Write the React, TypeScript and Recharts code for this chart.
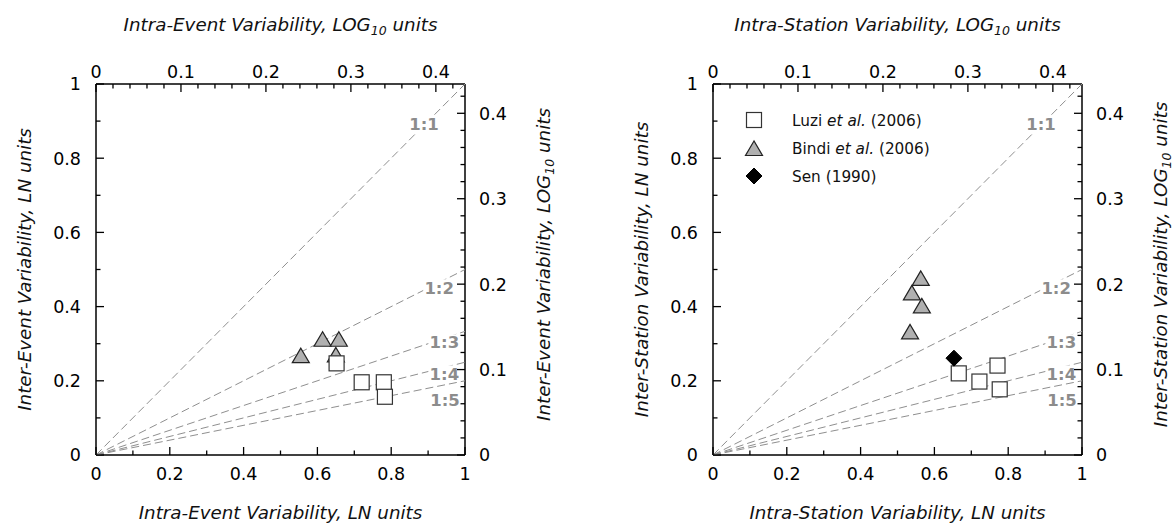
import React from 'react';
import { ScatterChart, Scatter, XAxis, YAxis, Legend } from 'recharts';

// ---------- data ----------
const lnTicks = [0, 0.1, 0.2, 0.3, 0.4, 0.5, 0.6, 0.7, 0.8, 0.9, 1];
const lnLabeledTicks = [0, 0.2, 0.4, 0.6, 0.8, 1];
const logTicks = [0, 0.02, 0.04, 0.06, 0.08, 0.1, 0.12, 0.14, 0.16, 0.18, 0.2, 0.22, 0.24, 0.26, 0.28, 0.3, 0.32, 0.34, 0.36, 0.38, 0.4, 0.42];
const logLabeledTicks = [0, 0.1, 0.2, 0.3, 0.4];
const LOG_MAX = 1 / Math.LN10; // 1 LN unit in LOG10 units

const ratioNames = ['1:1', '1:2', '1:3', '1:4', '1:5'];
const ratioDivisors = [1, 2, 3, 4, 5];
const ratioLabelX = [0.889, 0.93, 0.944, 0.944, 0.946];
const ratioLabelY = [0.892, 0.452, 0.304, 0.22, 0.148];

// Intra-event / inter-event (LN units)
const eventLuziX = [0.652, 0.72, 0.78, 0.783];
const eventLuziY = [0.247, 0.196, 0.196, 0.157];
const eventBindiX = [0.555, 0.614, 0.658, 0.65];
const eventBindiY = [0.268, 0.312, 0.312, 0.27];

// Intra-station / inter-station (LN units)
const stationLuziX = [0.666, 0.722, 0.771, 0.777];
const stationLuziY = [0.22, 0.198, 0.241, 0.177];
const stationBindiX = [0.563, 0.539, 0.566, 0.534];
const stationBindiY = [0.476, 0.437, 0.402, 0.332];
const stationSenX = [0.653];
const stationSenY = [0.261];

const legendNames = ['Luzi', 'Bindi', 'Sen'];

const FONT = '"DejaVu Sans", Verdana, sans-serif';

const zip = (xs: number[], ys: number[]) => xs.map((x, i) => ({ x, y: ys[i] }));

// ---------- shapes ----------
const SquareShape = (p: any) => {
  const { cx, cy } = p;
  if (cx == null || cy == null) return <g />;
  return <rect x={cx - 7.5} y={cy - 7.5} width={15} height={15} fill="#fff" stroke="#333" strokeWidth={1.2} />;
};
const TriangleShape = (p: any) => {
  const { cx, cy } = p;
  if (cx == null || cy == null) return <g />;
  return (
    <polygon
      points={`${cx},${cy - 7.5} ${cx - 8.5},${cy + 7} ${cx + 8.5},${cy + 7}`}
      fill="#b0b0b0"
      stroke="#222"
      strokeWidth={1.2}
    />
  );
};
const DiamondShape = (p: any) => {
  const { cx, cy } = p;
  if (cx == null || cy == null) return <g />;
  return <polygon points={`${cx},${cy - 8} ${cx + 8},${cy} ${cx},${cy + 8} ${cx - 8},${cy}`} fill="#000" stroke="#000" strokeWidth={1} />;
};
const NoShape = () => <g />;
const RatioLabelShape = (p: any) => {
  const { cx, cy } = p;
  const text = (p.payload && p.payload.text) || p.text;
  if (cx == null || cy == null) return <g />;
  return (
    <g>
      <rect x={cx - 16} y={cy - 8} width={32} height={16} fill="#fff" />
      <text x={cx} y={cy + 6.2} textAnchor="middle" fontFamily={FONT} fontWeight="bold" fontSize={16.5} fill="#8c8c8c">
        {text}
      </text>
    </g>
  );
};

// ---------- ticks ----------
const fmt = (v: number) => String(Number(v.toFixed(2)));
const isIn = (arr: number[], v: number) => arr.some((a) => Math.abs(a - v) < 1e-6);

const makeTick = (orient: 'top' | 'bottom' | 'left' | 'right', labeled: number[]) => (props: any) => {
  const { x, y, payload } = props;
  const v = payload.value;
  const major = isIn(labeled, v);
  const len = major ? 8 : 4.5;
  let line: any;
  let label: any = null;
  const common = { fontFamily: FONT, fontSize: 17.5, fill: '#000' };
  if (orient === 'bottom') {
    line = <line x1={x} x2={x} y1={y} y2={y - len} stroke="#000" strokeWidth={1.3} />;
    if (major) label = <text x={x} y={y + 25} textAnchor="middle" {...common}>{fmt(v)}</text>;
  } else if (orient === 'top') {
    line = <line x1={x} x2={x} y1={y} y2={y + len} stroke="#000" strokeWidth={1.3} />;
    if (major) label = <text x={x} y={y - 6.3} textAnchor="middle" {...common}>{fmt(v)}</text>;
  } else if (orient === 'left') {
    line = <line x1={x} x2={x + len} y1={y} y2={y} stroke="#000" strokeWidth={1.3} />;
    if (major) label = <text x={x - 15} y={y + 6.4} textAnchor="end" {...common}>{fmt(v)}</text>;
  } else {
    line = <line x1={x} x2={x - len} y1={y} y2={y} stroke="#000" strokeWidth={1.3} />;
    if (major) label = <text x={x + 14} y={y + 6.4} textAnchor="start" {...common}>{fmt(v)}</text>;
  }
  return (
    <g>
      {line}
      {label}
    </g>
  );
};

// ---------- axis titles ----------
const titleContent = (main: string, sub: string | null, tail: string, orient: 'top' | 'bottom' | 'left' | 'right', fb: { x: number; y: number; width: number; height: number }) => (props: any) => {
  const vb = props.viewBox && props.viewBox.width != null ? props.viewBox : fb;
  const { x, y, width: w, height: h } = vb;
  let tx = 0;
  let ty = 0;
  let rot = 0;
  if (orient === 'bottom') {
    tx = x + w / 2;
    ty = y + 64;
  } else if (orient === 'top') {
    tx = x + w / 2;
    ty = y + 31;
  } else if (orient === 'left') {
    tx = x + 31;
    ty = y + h / 2;
    rot = -90;
  } else {
    tx = fb.x + 84.5;
    ty = y + h / 2 - 5;
    rot = -90;
  }
  return (
    <text
      x={tx}
      y={ty}
      transform={rot ? `rotate(${rot} ${tx} ${ty})` : undefined}
      textAnchor="middle"
      fontStyle="italic"
      fontFamily={FONT}
      fontSize={18.3}
      fill="#111"
    >
      <tspan>{main}</tspan>
      {sub ? <tspan dy={4} fontSize={12.5}>{sub}</tspan> : null}
      <tspan dy={sub ? -4 : 0}>{tail}</tspan>
    </text>
  );
};

// ---------- legend ----------
const LegendContent = () => (
  <svg width={260} height={90} style={{ display: 'block', overflow: 'visible' }}>
    <SquareShape cx={12} cy={15} />
    <TriangleShape cx={12} cy={43.5} />
    <DiamondShape cx={12} cy={71} />
    <text x={50} y={20.5} fontFamily={FONT} fontSize={15.3} fill="#111">
      {legendNames[0]} <tspan fontStyle="italic">et al.</tspan> (2006)
    </text>
    <text x={50} y={49} fontFamily={FONT} fontSize={15.3} fill="#111">
      {legendNames[1]} <tspan fontStyle="italic">et al.</tspan> (2006)
    </text>
    <text x={50} y={76.5} fontFamily={FONT} fontSize={15.3} fill="#111">
      {legendNames[2]} (1990)
    </text>
  </svg>
);

// ---------- panel ----------
const H = 526;

type PanelProps = {
  word: string;
  width: number;
  luzi: { x: number; y: number }[];
  bindi: { x: number; y: number }[];
  sen?: { x: number; y: number }[];
  showLegend?: boolean;
};

const Panel = ({ word, width, luzi, bindi, sen, showLegend }: PanelProps) => {
  const ratioLabels = ratioNames.map((t, i) => ({ x: ratioLabelX[i], y: ratioLabelY[i], text: t }));
  const rightW = width - 465;
  return (
    <ScatterChart width={width} height={H} margin={{ top: 0, right: 0, bottom: 0, left: 0 }}>
      <XAxis
        xAxisId="ln"
        dataKey="x"
        type="number"
        orientation="bottom"
        domain={[0, 1]}
        ticks={lnTicks}
        interval={0}
        height={71}
        tickSize={0}
        tickMargin={0}
        tickLine={false}
        axisLine={{ stroke: '#000', strokeWidth: 1.5 }}
        tick={makeTick('bottom', lnLabeledTicks)}
        allowDataOverflow
        label={{ content: titleContent(`Intra-${word} Variability, LN units`, null, '', 'bottom', { x: 96, y: 455, width: 369, height: 71 }) } as any}
      />
      <XAxis
        xAxisId="log"
        dataKey="x"
        type="number"
        orientation="top"
        domain={[0, LOG_MAX]}
        ticks={logTicks}
        interval={0}
        height={84}
        tickSize={0}
        tickMargin={0}
        tickLine={false}
        axisLine={{ stroke: '#000', strokeWidth: 1.5 }}
        tick={makeTick('top', logLabeledTicks)}
        allowDataOverflow
        label={{ content: titleContent(`Intra-${word} Variability, LOG`, '10', ' units', 'top', { x: 96, y: 0, width: 369, height: 84 }) } as any}
      />
      <YAxis
        yAxisId="ln"
        dataKey="y"
        type="number"
        orientation="left"
        domain={[0, 1]}
        ticks={lnTicks}
        interval={0}
        width={96}
        tickSize={0}
        tickMargin={0}
        tickLine={false}
        axisLine={{ stroke: '#000', strokeWidth: 1.5 }}
        tick={makeTick('left', lnLabeledTicks)}
        allowDataOverflow
        label={{ content: titleContent(`Inter-${word} Variability, LN units`, null, '', 'left', { x: 0, y: 84, width: 96, height: 371 }) } as any}
      />
      <YAxis
        yAxisId="log"
        dataKey="y"
        type="number"
        orientation="right"
        domain={[0, LOG_MAX]}
        ticks={logTicks}
        interval={0}
        width={rightW}
        tickSize={0}
        tickMargin={0}
        tickLine={false}
        axisLine={{ stroke: '#000', strokeWidth: 1.5 }}
        tick={makeTick('right', logLabeledTicks)}
        allowDataOverflow
        label={{ content: titleContent(`Inter-${word} Variability, LOG`, '10', ' units', 'right', { x: 465, y: 84, width: rightW, height: 371 }) } as any}
      />
      <Scatter xAxisId="log" yAxisId="log" data={[{ x: 0, y: 0 }]} shape={NoShape} isAnimationActive={false} legendType="none" />
      {ratioDivisors.map((n, i) => (
        <Scatter
          key={`r${i}`}
          xAxisId="ln"
          yAxisId="ln"
          data={[{ x: 0, y: 0 }, { x: 1, y: 1 / n }]}
          line={{ stroke: '#8f8f8f', strokeWidth: 1, strokeDasharray: '8 4' }}
          shape={NoShape}
          isAnimationActive={false}
          legendType="none"
        />
      ))}
      <Scatter xAxisId="ln" yAxisId="ln" data={ratioLabels} shape={RatioLabelShape} isAnimationActive={false} legendType="none" />
      <Scatter xAxisId="ln" yAxisId="ln" name="Bindi et al. (2006)" data={bindi} shape={TriangleShape} isAnimationActive={false} />
      <Scatter xAxisId="ln" yAxisId="ln" name="Luzi et al. (2006)" data={luzi} shape={SquareShape} isAnimationActive={false} />
      {sen ? <Scatter xAxisId="ln" yAxisId="ln" name="Sen (1990)" data={sen} shape={DiamondShape} isAnimationActive={false} /> : null}
      {showLegend ? (
        <Legend
          layout="vertical"
          align="center"
          verticalAlign="middle"
          content={LegendContent as any}
          wrapperStyle={{ position: 'absolute', left: 125, top: 105, width: 260, height: 90 }}
        />
      ) : null}
    </ScatterChart>
  );
};

export default function App() {
  return (
    <div style={{ position: 'absolute', left: 0, top: 0, width: 1174, height: 526, background: '#fff', overflow: 'hidden' }}>
      <div style={{ position: 'absolute', left: 0, top: 0 }}>
        <Panel word="Event" width={600} luzi={zip(eventLuziX, eventLuziY)} bindi={zip(eventBindiX, eventBindiY)} />
      </div>
      <div style={{ position: 'absolute', left: 617, top: 0 }}>
        <Panel
          word="Station"
          width={557}
          luzi={zip(stationLuziX, stationLuziY)}
          bindi={zip(stationBindiX, stationBindiY)}
          sen={zip(stationSenX, stationSenY)}
          showLegend
        />
      </div>
    </div>
  );
}
